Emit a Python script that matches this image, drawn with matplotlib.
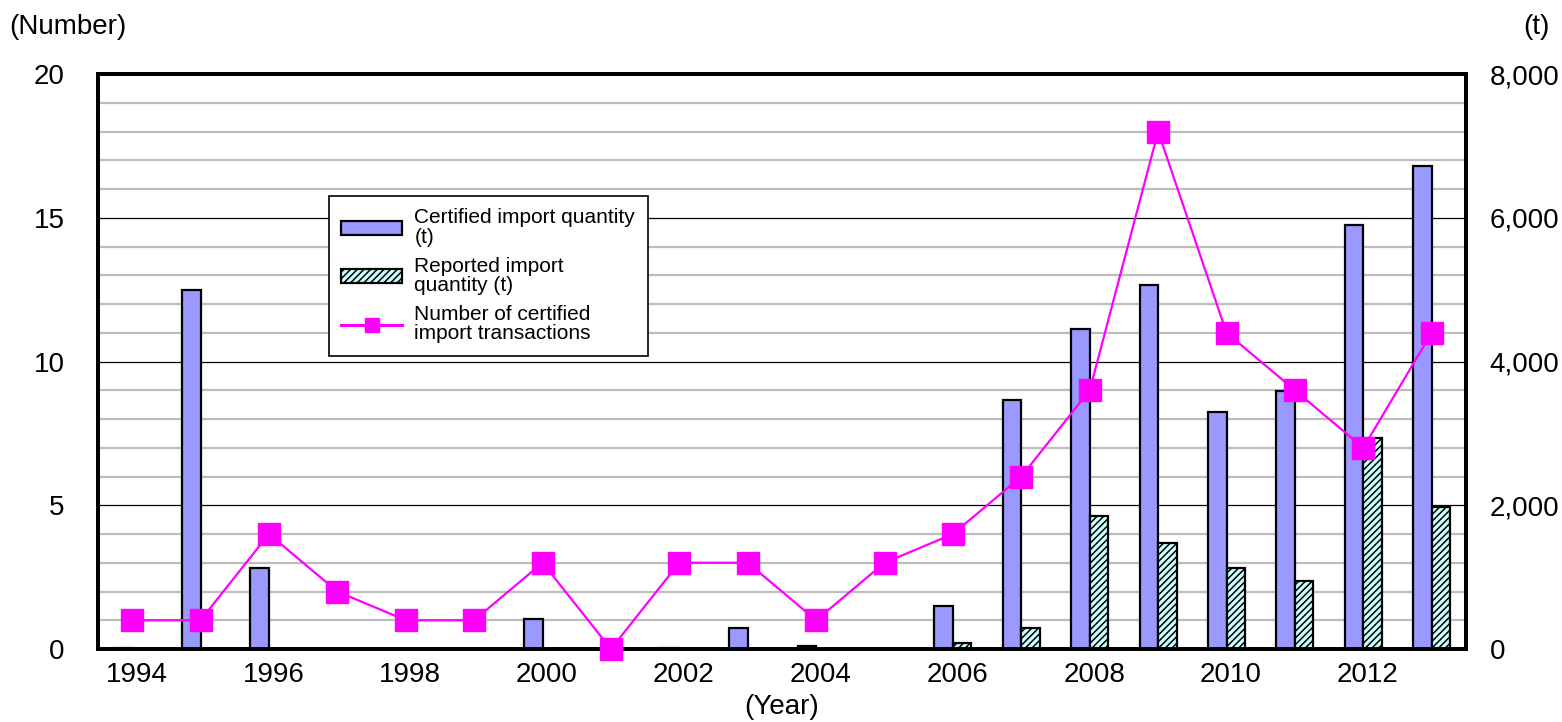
"""Import quantities and certified transactions by year, dual axis."""

import matplotlib

matplotlib.use("Agg")
import matplotlib.pyplot as plt
import matplotlib.transforms as mtransforms
from matplotlib.patches import Patch
from matplotlib.lines import Line2D

plt.rcParams["font.family"] = ["Liberation Sans", "DejaVu Sans"]
plt.rcParams["hatch.linewidth"] = 1.1

years = list(range(1994, 2014))
certified_t = [20, 5000, 1130, 0, 0, 0, 420, 0, 10, 290,
               40, 0, 600, 3460, 4450, 5060, 3300, 3590, 5900, 6720]
reported_t = [0, 0, 0, 0, 0, 0, 0, 0, 0, 0,
              0, 0, 90, 290, 1850, 1480, 1130, 950, 2940, 1980]
transactions = [1, 1, 4, 2, 1, 1, 3, 0, 3, 3,
                1, 3, 4, 6, 9, 18, 11, 9, 7, 11]

BAR_BLUE = "#9999FF"
HATCH_FILL = "#CCFFFF"
LINE_PINK = "#FF00FF"
FS = 20

fig = plt.figure(figsize=(15.62, 7.22), dpi=100)
ax_t = fig.add_axes([0.0627, 0.1011, 0.8758, 0.7964])
ax_n = ax_t.twinx()

# bars on the tonnage axis, line on the count axis drawn above them
w = 0.27
ax_t.bar([y - w / 2 for y in years], certified_t, width=w, color=BAR_BLUE,
         edgecolor="black", linewidth=1.6, zorder=3)
ax_t.bar([y + w / 2 for y in years], reported_t, width=w, color=HATCH_FILL,
         edgecolor="black", linewidth=1.6, hatch="/////", zorder=3)

ax_t.set_ylim(0, 8000)
ax_t.set_yticks(range(0, 8001, 2000))
ax_t.set_yticklabels([f"{v:,}" for v in range(0, 8001, 2000)])
for v in range(400, 8000, 400):
    if v % 2000 == 0:
        ax_t.axhline(v, color="black", linewidth=0.9, zorder=1)
    else:
        ax_t.axhline(v, color="#BDBDBD", linewidth=1.6, zorder=1)

ax_n.set_zorder(ax_t.get_zorder() + 1)
ax_n.patch.set_visible(False)
ax_n.plot(years, transactions, color=LINE_PINK, linewidth=1.6, marker="s",
          markersize=16, markeredgecolor=LINE_PINK, clip_on=False, zorder=5)
ax_n.set_ylim(0, 20)
ax_n.set_yticks(range(0, 21, 5))

# left axis shows the count scale, right axis shows tonnes
ax_n.yaxis.tick_left()
ax_t.yaxis.tick_right()
ax_t.set_xlim(1993.5, 2013.5)
ax_t.set_xticks(range(1994, 2014, 2))

for a in (ax_t, ax_n):
    a.tick_params(length=0, labelsize=FS)
    for s in a.spines.values():
        s.set_linewidth(2.8)
        s.set_color("black")
ax_n.tick_params(axis="y", pad=24)
ax_t.tick_params(axis="y", pad=17)
ax_t.tick_params(axis="x", pad=9)
shift = mtransforms.ScaledTranslation(4.5 / 100, 0, fig.dpi_scale_trans)
for lbl in ax_t.get_xticklabels():
    lbl.set_transform(lbl.get_transform() + shift)

ax_t.set_xlabel("(Year)", fontsize=FS, labelpad=5)
fig.text(0.006, 0.963, "(Number)", fontsize=FS, ha="left", va="center")
fig.text(0.992, 0.963, "(t)", fontsize=FS, ha="right", va="center")

handles = [
    Patch(facecolor=BAR_BLUE, edgecolor="black", linewidth=1.6),
    Patch(facecolor=HATCH_FILL, edgecolor="black", linewidth=1.6, hatch="/////"),
    Line2D([], [], color=LINE_PINK, linewidth=2.2, marker="s", markersize=10),
]
labels = [
    "Certified import quantity\n(t)",
    "Reported import\nquantity (t)",
    "Number of certified\nimport transactions",
]
leg = ax_n.legend(handles, labels, loc="upper left",
                  bbox_to_anchor=(0.1689, 0.788),
                  fontsize=15, frameon=True, fancybox=False, framealpha=1,
                  edgecolor="black", handlelength=2.9, handleheight=0.6,
                  labelspacing=0.45, borderpad=0.6, handletextpad=0.6,
                  borderaxespad=0)
leg.get_frame().set_linewidth(1.2)
for t in leg.get_texts():
    t.set_linespacing(1.05)

fig.savefig("out.png", dpi=100, facecolor="white")
